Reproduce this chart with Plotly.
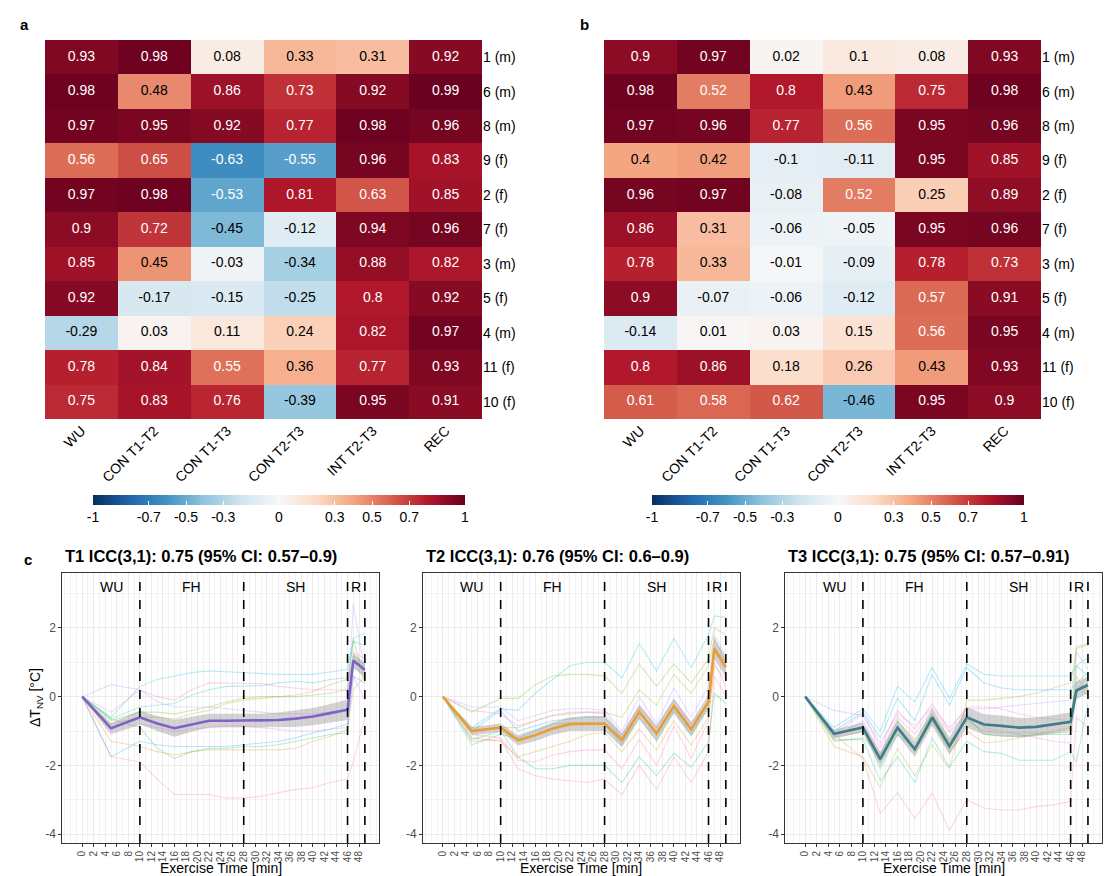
import plotly.graph_objects as go

W, H = 1115, 876
FONT = "Liberation Sans, Arial, sans-serif"

# ---------------- heatmap data ----------------
COLS = ["WU", "CON T1-T2", "CON T1-T3", "CON T2-T3", "INT T2-T3", "REC"]
ROWS = ["1 (m)", "6 (m)", "8 (m)", "9 (f)", "2 (f)", "7 (f)", "3 (m)", "5 (f)", "4 (m)", "11 (f)", "10 (f)"]

corr_a = [
    [0.93, 0.98, 0.08, 0.33, 0.31, 0.92],
    [0.98, 0.48, 0.86, 0.73, 0.92, 0.99],
    [0.97, 0.95, 0.92, 0.77, 0.98, 0.96],
    [0.56, 0.65, -0.63, -0.55, 0.96, 0.83],
    [0.97, 0.98, -0.53, 0.81, 0.63, 0.85],
    [0.9, 0.72, -0.45, -0.12, 0.94, 0.96],
    [0.85, 0.45, -0.03, -0.34, 0.88, 0.82],
    [0.92, -0.17, -0.15, -0.25, 0.8, 0.92],
    [-0.29, 0.03, 0.11, 0.24, 0.82, 0.97],
    [0.78, 0.84, 0.55, 0.36, 0.77, 0.93],
    [0.75, 0.83, 0.76, -0.39, 0.95, 0.91],
]
corr_b = [
    [0.9, 0.97, 0.02, 0.1, 0.08, 0.93],
    [0.98, 0.52, 0.8, 0.43, 0.75, 0.98],
    [0.97, 0.96, 0.77, 0.56, 0.95, 0.96],
    [0.4, 0.42, -0.1, -0.11, 0.95, 0.85],
    [0.96, 0.97, -0.08, 0.52, 0.25, 0.89],
    [0.86, 0.31, -0.06, -0.05, 0.95, 0.96],
    [0.78, 0.33, -0.01, -0.09, 0.78, 0.73],
    [0.9, -0.07, -0.06, -0.12, 0.57, 0.91],
    [-0.14, 0.01, 0.03, 0.15, 0.56, 0.95],
    [0.8, 0.86, 0.18, 0.26, 0.43, 0.93],
    [0.61, 0.58, 0.62, -0.46, 0.95, 0.9],
]
CB_TICKS = [-1, -0.7, -0.5, -0.3, 0, 0.3, 0.5, 0.7, 1]

# ---------------- time series data ----------------
time_min = [0, 5, 10, 13, 16, 19, 22, 25, 28, 31, 34, 37, 40, 43, 46, 47, 49]
x_tick_labels = list(range(0, 50, 2))
phase_bounds = [10, 28, 46, 49]
phase_names = ["WU", "FH", "SH", "R"]
phase_label_x = [5, 19, 37, 47.5]

titles = ["T1 ICC(3,1): 0.75 (95% CI: 0.57–0.9)",
          "T2 ICC(3,1): 0.76 (95% CI: 0.6–0.9)",
          "T3 ICC(3,1): 0.75 (95% CI: 0.57–0.91)"]

mean_T1 = [0, -0.92, -0.6, -0.78, -0.92, -0.8, -0.7, -0.7, -0.7, -0.7, -0.68, -0.64, -0.58, -0.48, -0.38, 1.05, 0.78]
mean_T2 = [0, -1.0, -0.9, -1.27, -1.12, -0.93, -0.8, -0.78, -0.78, -1.27, -0.44, -1.07, -0.27, -0.95, -0.15, 1.4, 0.86]
mean_T3 = [0, -1.08, -0.9, -1.82, -0.9, -1.53, -0.6, -1.44, -0.6, -0.81, -0.85, -0.9, -0.88, -0.81, -0.73, 0.18, 0.34]

ci_T1 = [0, 0.15, 0.2, 0.22, 0.25, 0.22, 0.2, 0.2, 0.2, 0.2, 0.22, 0.24, 0.25, 0.27, 0.3, 0.22, 0.2]
ci_T2 = [0, 0.12, 0.12, 0.15, 0.17, 0.18, 0.2, 0.22, 0.22, 0.2, 0.22, 0.22, 0.22, 0.22, 0.2, 0.3, 0.3]
ci_T3 = [0, 0.12, 0.15, 0.2, 0.22, 0.22, 0.25, 0.25, 0.3, 0.3, 0.3, 0.28, 0.27, 0.27, 0.27, 0.25, 0.25]

# individual participants (ggplot hue order)
ind_T1 = [
    [0, -1.75, -1.9, -2.4, -2.85, -2.85, -2.85, -2.95, -2.95, -2.9, -2.8, -2.7, -2.65, -2.5, -2.4, -1.9, -0.6],
    [0, -1.3, -1.45, -1.6, -1.7, -1.6, -1.55, -1.55, -1.55, -1.55, -1.55, -1.5, -1.3, -1.15, -0.95, 0.2, 0.6],
    [0, -0.8, -0.6, -0.6, -0.65, -0.5, -0.4, -0.2, -0.1, -0.05, 0.0, 0.05, 0.15, 0.35, 0.5, 1.0, 0.5],
    [0, -0.7, -0.45, -0.45, -0.5, -0.4, -0.3, -0.15, -0.05, 0.0, 0.0, 0.0, 0.05, 0.1, 0.2, 1.7, 0.4],
    [0, -0.65, -0.9, -1.5, -1.8, -1.6, -1.5, -1.5, -1.45, -1.45, -1.4, -1.3, -1.2, -1.1, -1.05, 1.2, 0.9],
    [0, -0.65, -0.3, -0.25, -0.2, 0.05, 0.2, 0.3, 0.3, 0.32, 0.4, 0.45, 0.4, 0.5, 0.55, 1.6, 1.5],
    [0, -0.6, 0.3, 0.5, 0.6, 0.7, 0.75, 0.72, 0.7, 0.68, 0.65, 0.65, 0.65, 0.72, 0.8, 1.7, 1.85],
    [0, -1.75, -1.3, -1.4, -1.45, -1.45, -1.45, -1.45, -1.4, -1.35, -1.3, -1.2, -1.05, -0.95, -0.8, 0.6, 0.4],
    [0, 0.35, 0.2, -0.15, -0.3, -0.3, -0.3, -0.35, -0.4, -0.45, -0.5, -0.5, -0.5, -0.45, -0.4, 2.7, 0.7],
    [0, -1.1, -0.8, -0.9, -1.0, -0.95, -0.9, -0.85, -0.85, -0.9, -0.95, -1.0, -1.0, -0.95, -0.9, 0.6, -0.1],
    [0, -0.45, 0.2, 0.0, -0.1, 0.2, 0.4, 0.4, 0.4, 0.38, 0.3, 0.25, 0.2, 0.2, 0.2, 1.3, 1.1],
]
ind_T2 = [
    [0, -1.3, -1.25, -2.1, -2.3, -2.4, -2.45, -2.5, -2.4, -2.85, -2.0, -2.7, -1.75, -2.5, -1.6, 0.6, 0.0],
    [0, -1.2, -1.3, -1.75, -1.6, -1.45, -1.3, -1.1, -1.05, -1.6, -0.95, -1.55, -0.7, -1.4, -0.6, 0.9, 0.5],
    [0, -1.0, -0.9, -0.9, -0.7, -0.55, -0.5, -0.45, -0.45, -0.6, 0.2, -0.25, 0.65, 0.1, 0.9, 1.7, 1.0],
    [0, -0.45, -0.05, -0.05, 0.35, 0.6, 0.65, 0.65, 0.6, 0.1, 0.95, 0.3, 0.95, 0.4, 1.1, 2.0, 1.8],
    [0, -1.25, -1.0, -1.75, -2.1, -2.1, -2.0, -2.0, -2.0, -2.5, -1.75, -2.3, -1.65, -2.05, -1.3, 0.1, -0.2],
    [0, -1.4, -1.1, -1.2, -1.0, -0.8, -0.75, -0.75, -0.8, -1.4, -0.6, -1.3, -0.4, -1.1, -0.3, 1.4, 1.0],
    [0, -0.9, -0.35, -0.4, 0.1, 0.5, 0.9, 1.0, 1.0, 0.55, 1.55, 0.75, 1.7, 0.85, 1.8, 2.35, 2.3],
    [0, -1.0, -0.4, -1.0, -0.85, -0.7, -0.65, -0.6, -0.6, -1.2, -0.45, -1.1, -0.3, -1.0, -0.1, 1.3, 0.9],
    [0, -0.3, -0.3, -0.7, -0.55, -0.4, -0.35, -0.35, -0.4, -1.0, 0.0, -0.8, 0.25, -0.6, 0.3, 1.8, 1.2],
    [0, -0.4, -0.5, -0.85, -0.7, -0.55, -0.45, -0.45, -0.5, -1.1, -0.3, -0.9, -0.1, -0.8, -0.2, 1.5, 0.7],
    [0, -1.1, -1.2, -1.85, -1.9, -1.7, -1.6, -1.55, -1.55, -2.1, -1.25, -2.0, -0.85, -1.8, -0.7, 1.0, 0.3],
]
ind_T3 = [
    [0, -1.1, -1.8, -3.4, -2.8, -3.55, -2.8, -3.9, -3.0, -3.25, -3.3, -3.3, -3.2, -3.15, -3.05, -0.6, -0.9],
    [0, -1.2, -1.0, -1.9, -0.9, -1.6, -0.7, -1.6, -1.0, -1.35, -1.3, -1.2, -1.1, -1.0, -0.9, 0.6, 0.0],
    [0, -1.45, -1.75, -2.65, -1.5, -2.3, -1.4, -2.1, -0.1, -0.1, -0.05, 0.0, 0.1, 0.25, 0.4, 1.4, 1.5],
    [0, -1.3, -1.2, -1.7, -0.7, -1.25, -0.5, -1.3, -0.7, -1.0, -1.05, -1.05, -1.05, -1.05, -1.05, 1.45, 1.55],
    [0, -1.1, -0.9, -2.1, -1.1, -1.5, -0.7, -1.5, -0.6, -1.1, -1.15, -1.15, -1.1, -1.1, -1.1, 0.9, 0.6],
    [0, -1.25, -1.25, -2.45, -1.75, -2.5, -1.2, -2.05, -1.3, -1.6, -1.65, -1.85, -1.85, -1.85, -1.6, -1.9, -0.2],
    [0, -0.9, -0.35, -1.0, 0.3, -0.15, 0.85, -0.05, 0.95, 0.65, 0.6, 0.6, 0.6, 0.6, 0.6, 0.9, 1.15],
    [0, -1.0, -0.45, -1.2, -0.05, -0.7, 0.65, -0.25, 0.85, 0.4, 0.25, 0.2, 0.2, 0.2, 0.2, 0.4, 0.7],
    [0, -0.4, -0.55, -1.35, -0.5, -0.85, -0.3, -0.9, -0.35, -0.35, -0.3, -0.25, -0.2, -0.15, -0.1, 1.3, 0.8],
    [0, -1.2, -0.7, -1.65, -0.6, -1.1, -0.35, -1.05, -0.5, -0.9, -1.0, -1.1, -1.2, -1.3, -1.35, 0.2, 0.3],
    [0, -1.1, -0.5, -1.5, -0.4, -0.95, -0.2, -1.0, -0.3, -0.3, -0.35, -0.5, -0.6, -0.65, -0.7, 0.3, 0.3],
]

# ---------------- styles ----------------
RDBU = [[0.0, "#053061"], [0.1, "#2166AC"], [0.2, "#4393C3"], [0.3, "#92C5DE"], [0.4, "#D1E5F0"],
        [0.5, "#F7F7F7"], [0.6, "#FDDBC7"], [0.7, "#F4A582"], [0.8, "#D6604D"], [0.9, "#B2182B"],
        [1.0, "#67001F"]]
HUES = ["248,118,109", "219,142,0", "174,162,0", "100,178,0", "0,189,92", "0,193,167",
        "0,186,222", "0,166,255", "179,133,255", "239,103,235", "255,99,182"]
MEAN_COLORS = ["#7E62C8", "#E89E35", "#3D7D8C"]


def px(x):
    return x / W


def py(y):
    return 1 - y / H


fig = go.Figure()
layout_axes = {}
annotations = []
shapes = []

# ---------------- heatmaps ----------------
heat_specs = [
    (corr_a, "x", "y", "coloraxis", 37, 474, 271, "a", 16),
    (corr_b, "x2", "y2", "coloraxis2", 596, 1033, 830, "b", 576),
]
for k, (Z, xa, ya, cax, x0, x1, cbx, lab, labx) in enumerate(heat_specs):
    fig.add_trace(go.Heatmap(z=Z, x=list(range(len(COLS))), y=list(range(len(ROWS))),
                             coloraxis=cax, xaxis=xa, yaxis=ya, hoverinfo="skip", xgap=0, ygap=0))
    tx, ty, tt, tc = [], [], [], []
    for i, row in enumerate(Z):
        for j, v in enumerate(row):
            tx.append(j)
            ty.append(i)
            tt.append(f"{v:g}")
            tc.append("white" if abs(v) > 0.5 else "black")
    fig.add_trace(go.Scatter(x=tx, y=ty, text=tt, mode="text", xaxis=xa, yaxis=ya,
                             textfont=dict(size=14, color=tc, family=FONT),
                             hoverinfo="skip", showlegend=False))
    suffix = "" if k == 0 else "2"
    layout_axes["xaxis" + suffix] = dict(
        domain=[px(x0), px(x1)], range=[-0.5, len(COLS) - 0.5], anchor=ya,
        tickmode="array", tickvals=list(range(len(COLS))), ticktext=COLS, tickangle=-45,
        showgrid=False, zeroline=False, ticks="", showline=False,
        tickfont=dict(size=14, color="black", family=FONT))
    layout_axes["yaxis" + suffix] = dict(
        domain=[py(411), py(32)], range=[len(ROWS) - 0.5, -0.5], anchor=xa, side="right",
        tickmode="array", tickvals=list(range(len(ROWS))), ticktext=ROWS,
        showgrid=False, zeroline=False, ticks="", showline=False,
        tickfont=dict(size=14, color="black", family=FONT))
    layout_axes["coloraxis" if k == 0 else "coloraxis2"] = dict(
        colorscale=RDBU, cmin=-1, cmax=1,
        colorbar=dict(orientation="h", x=px(cbx), xanchor="center", y=py(487), yanchor="top",
                      len=372, lenmode="pixels", thickness=10, thicknessmode="pixels",
                      tickmode="array", tickvals=CB_TICKS, ticktext=[f"{t:g}" for t in CB_TICKS],
                      ticks="inside", tickcolor="white", ticklen=4, outlinewidth=0,
                      xpad=0, ypad=0, tickfont=dict(size=14, color="black", family=FONT)))
    annotations.append(dict(text="<b>" + lab + "</b>", x=px(labx), y=py(16), xref="paper", yref="paper",
                            showarrow=False, font=dict(size=15, color="black", family=FONT),
                            xanchor="center", yanchor="middle"))

# ---------------- line panels ----------------
panels = [(54.3, 370.7), (415, 731.7), (777.3, 1093.8)]
means = [mean_T1, mean_T2, mean_T3]
cis = [ci_T1, ci_T2, ci_T3]
inds = [ind_T1, ind_T2, ind_T3]
odd_minor = [v for v in range(-3, 52) if v % 2 != 0] + [-2, 50]

for p in range(3):
    xa = "x" + str(p + 3)
    ya = "y" + str(p + 3)
    x0, x1 = panels[p]
    for i, series in enumerate(inds[p]):
        fig.add_trace(go.Scatter(x=time_min, y=series, mode="lines", xaxis=xa, yaxis=ya,
                                 line=dict(color=f"rgba({HUES[i]},0.28)", width=1.1),
                                 hoverinfo="skip", showlegend=False))
    upper = [m + c for m, c in zip(means[p], cis[p])]
    lower = [m - c for m, c in zip(means[p], cis[p])]
    fig.add_trace(go.Scatter(x=time_min, y=upper, mode="lines", xaxis=xa, yaxis=ya,
                             line=dict(width=0, color="rgba(0,0,0,0)"), hoverinfo="skip", showlegend=False))
    fig.add_trace(go.Scatter(x=time_min, y=lower, mode="lines", xaxis=xa, yaxis=ya, fill="tonexty",
                             fillcolor="rgba(150,150,150,0.42)",
                             line=dict(width=0, color="rgba(0,0,0,0)"), hoverinfo="skip", showlegend=False))
    fig.add_trace(go.Scatter(x=time_min, y=means[p], mode="lines", xaxis=xa, yaxis=ya,
                             line=dict(color=MEAN_COLORS[p], width=2.6),
                             hoverinfo="skip", showlegend=False))
    layout_axes["xaxis" + str(p + 3)] = dict(
        domain=[px(x0), px(x1)], range=[-3.45, 51.4], anchor=ya,
        tickmode="array", tickvals=x_tick_labels, ticktext=[str(v) for v in x_tick_labels],
        tickangle=-90, ticks="outside", ticklen=3, tickcolor="#333333",
        tickfont=dict(size=10, color="#4D4D4D", family=FONT),
        showgrid=True, gridcolor="#EBEBEB", gridwidth=1, zeroline=False,
        showline=True, mirror=True, linecolor="#333333", linewidth=1,
        minor=dict(tickmode="array", tickvals=odd_minor, showgrid=True, gridcolor="#F3F3F3",
                   gridwidth=0.6, ticks=""))
    layout_axes["yaxis" + str(p + 3)] = dict(
        domain=[py(835), py(565)], range=[-4.26, 3.6], anchor=xa,
        tickmode="array", tickvals=[-4, -2, 0, 2], ticktext=["-4", "-2", "0", "2"],
        ticks="outside", ticklen=3, tickcolor="#333333",
        tickfont=dict(size=12, color="#4D4D4D", family=FONT),
        showgrid=True, gridcolor="#EBEBEB", gridwidth=1, zeroline=False,
        showline=True, mirror=True, linecolor="#333333", linewidth=1,
        minor=dict(tickmode="array", tickvals=[-3, -1, 1, 3], showgrid=True, gridcolor="#F3F3F3",
                   gridwidth=0.6, ticks=""))
    for b in phase_bounds:
        shapes.append(dict(type="line", xref=xa, yref=ya + " domain", x0=b, x1=b, y0=0, y1=1,
                           line=dict(color="black", width=1.6, dash="dash"), layer="above"))
    for name, lx in zip(phase_names, phase_label_x):
        annotations.append(dict(text=name, x=lx, y=3.2, xref=xa, yref=ya, showarrow=False,
                                font=dict(size=14, color="black", family=FONT),
                                xanchor="center", yanchor="middle"))
    annotations.append(dict(text="<b>" + titles[p] + "</b>", x=px(x0 + 1), y=py(548),
                            xref="paper", yref="paper", showarrow=False, xanchor="left", yanchor="middle",
                            font=dict(size=16.5, color="black", family=FONT)))
    annotations.append(dict(text="Exercise Time [min]", x=px((x0 + x1) / 2), y=py(860),
                            xref="paper", yref="paper", showarrow=False, xanchor="center", yanchor="middle",
                            font=dict(size=14, color="black", family=FONT)))

annotations.append(dict(text="<b>c</b>", x=px(20), y=py(551), xref="paper", yref="paper",
                        showarrow=False, font=dict(size=15, color="black", family=FONT),
                        xanchor="center", yanchor="middle"))
annotations.append(dict(text="ΔT<sub>NV</sub> [°C]", x=px(28), y=py(690), xref="paper", yref="paper",
                        showarrow=False, textangle=-90, font=dict(size=14, color="black", family=FONT),
                        xanchor="center", yanchor="middle"))

fig.update_layout(
    width=W, height=H, margin=dict(l=0, r=0, t=0, b=0),
    paper_bgcolor="white", plot_bgcolor="white",
    font=dict(family=FONT, color="black"),
    showlegend=False, annotations=annotations, shapes=shapes,
    **layout_axes)

fig.write_html("out.html")
